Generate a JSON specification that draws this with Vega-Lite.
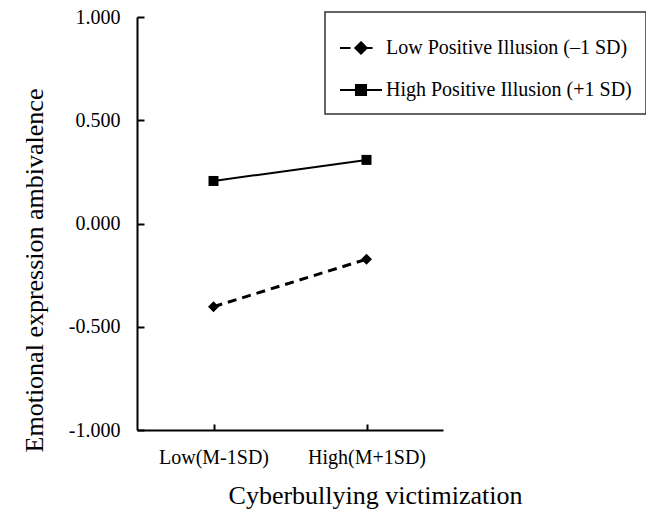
{
  "$schema": "https://vega.github.io/schema/vega-lite/v6.json",
  "width": 306,
  "height": 413,
  "autosize": {"type": "none"},
  "padding": {"left": 137, "top": 17, "right": 203, "bottom": 80},
  "background": "white",
  "config": {
    "view": {"stroke": null},
    "font": "Liberation Serif",
    "legend": {"strokeWidth": 1.5},
    "axis": {
      "domainColor": "black",
      "domainWidth": 2,
      "tickColor": "black",
      "tickWidth": 2,
      "grid": false,
      "labelFont": "Liberation Serif",
      "labelFontSize": 20,
      "labelColor": "black",
      "titleFont": "Liberation Serif",
      "titleFontSize": 26,
      "titleFontWeight": "normal",
      "titleColor": "black"
    }
  },
  "data": {
    "values": [
      {"victim": "Low(M-1SD)", "group": "Low Positive Illusion (–1 SD)", "value": -0.403},
      {"victim": "High(M+1SD)", "group": "Low Positive Illusion (–1 SD)", "value": -0.173},
      {"victim": "Low(M-1SD)", "group": "High Positive Illusion (+1 SD)", "value": 0.206},
      {"victim": "High(M+1SD)", "group": "High Positive Illusion (+1 SD)", "value": 0.308}
    ]
  },
  "encoding": {
    "x": {
      "field": "victim",
      "type": "ordinal",
      "sort": ["Low(M-1SD)", "High(M+1SD)"],
      "scale": {"type": "point", "padding": 0.5},
      "axis": {
        "title": "Cyberbullying victimization",
        "labelAngle": 0,
        "tickSize": -6,
        "labelPadding": 23,
        "titleX": 238,
        "titleY": 73,
        "titleBaseline": "alphabetic",
        "titleAlign": "center"
      }
    },
    "y": {
      "field": "value",
      "type": "quantitative",
      "scale": {"domain": [-1, 1], "nice": false, "zero": false},
      "axis": {
        "title": "Emotional expression ambivalence",
        "values": [-1, -0.5, 0, 0.5, 1],
        "labelExpr": "(datum.value < 0 ? '-' : '') + format(abs(datum.value), '.3f')",
        "tickSize": -7,
        "labelPadding": 24,
        "titleAngle": 270,
        "titleX": -95,
        "titleY": 253,
        "titleBaseline": "alphabetic",
        "titleAlign": "center"
      }
    },
    "color": {
      "field": "group",
      "type": "nominal",
      "scale": {
        "domain": ["Low Positive Illusion (–1 SD)", "High Positive Illusion (+1 SD)"],
        "range": ["black", "black"]
      },
      "legend": {
        "title": null,
        "orient": "none",
        "legendX": 188,
        "legendY": -5,
        "strokeColor": "#333333",
        "fillColor": "white",
        "padding": 14,
        "labelFont": "Liberation Serif",
        "labelFontSize": 20,
        "labelColor": "black",
        "labelOffset": 3,
        "labelLimit": 0,
        "rowPadding": 10,
        "symbolSize": 1764,
        "symbolType": "M-1,0H1",
        "encode": {
          "symbols": {
            "update": {
              "shape": {"signal": "datum.value === 'Low Positive Illusion (–1 SD)' ? 'M-1,0H-0.5M-0.2,0H0.55M0,-0.27L0.27,0L0,0.27L-0.27,0Z' : 'M-1,0H1M-0.24,-0.24H0.24V0.24H-0.24Z'"},
              "fill": {"value": "black"},
              "stroke": {"value": "black"},
              "strokeWidth": {"value": 2},
              "strokeDash": {"value": []},
              "opacity": {"value": 1},
              "fillOpacity": {"value": 1}
            }
          }
        }
      }
    }
  },
  "layer": [
    {
      "transform": [{"filter": "datum.group === 'Low Positive Illusion (–1 SD)'"}],
      "mark": {"type": "line", "strokeWidth": 3, "strokeDash": [9, 6]}
    },
    {
      "transform": [{"filter": "datum.group === 'High Positive Illusion (+1 SD)'"}],
      "mark": {"type": "line", "strokeWidth": 2}
    },
    {
      "transform": [{"filter": "datum.group === 'Low Positive Illusion (–1 SD)'"}],
      "mark": {"type": "point", "filled": true, "opacity": 1, "size": 121, "shape": "diamond"}
    },
    {
      "transform": [{"filter": "datum.group === 'High Positive Illusion (+1 SD)'"}],
      "mark": {"type": "point", "filled": true, "opacity": 1, "size": 100, "shape": "square"}
    }
  ]
}
